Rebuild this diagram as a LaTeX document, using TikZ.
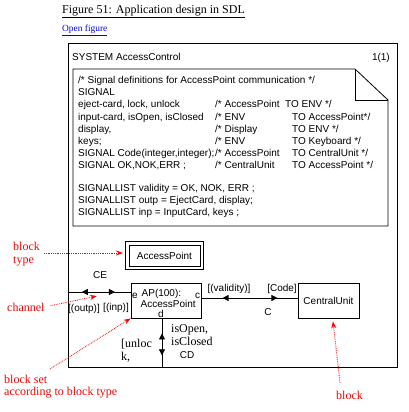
\documentclass[tikz,border=0pt]{standalone}
\usepackage{fontspec}
\setmainfont{Liberation Serif}
\setsansfont{Liberation Sans}
\usetikzlibrary{arrows.meta, decorations.markings}
\definecolor{linkblue}{RGB}{0,0,255}
\definecolor{notered}{RGB}{255,0,0}
\tikzstyle{sdlblock} = [rectangle, draw=black, line width=0.8pt, minimum height=35pt, inner sep=0pt, font=\sffamily\fontsize{10}{12}\selectfont]
\tikzstyle{blocktype} = [rectangle, draw=black, line width=0.8pt, minimum width=71pt, minimum height=21pt, inner sep=0pt, font=\sffamily\fontsize{10}{12}\selectfont]
\tikzstyle{sdltext} = [inner sep=0pt, font=\sffamily\fontsize{10}{12}\selectfont]
\tikzstyle{sdlcomment} = [inner sep=0pt, anchor=north west, font=\sffamily\fontsize{10}{12.1}\selectfont]
\tikzstyle{handtext} = [inner sep=0pt, anchor=base west, font=\fontsize{12}{14}\selectfont]
\tikzstyle{note} = [inner sep=0pt, anchor=base west, text=notered, font=\fontsize{12}{14}\selectfont]
\tikzstyle{pointer} = [notered, densely dotted, line width=0.8pt, -{Stealth[length=7pt,width=5pt]}]
\tikzstyle{channel} = [line width=0.8pt]
\tikzset{twoway/.style 2 args={postaction={decorate, decoration={markings,
  mark=at position #1 with {\arrowreversed{Triangle[length=6pt,width=6pt]}},
  mark=at position #2 with {\arrow{Triangle[length=6pt,width=6pt]}}}}}}

\begin{document}
\begin{tikzpicture}[x=1pt, y=-1pt]
\useasboundingbox (0,0) rectangle (408,412);

\node (title) [inner sep=0pt, anchor=base, font=\fontsize{12}{14}\selectfont] at (153.5,13.5) {\underline{Figure 51: Application design in SDL}};
\node (openfig) [inner sep=0pt, anchor=base west, text=linkblue, font=\fontsize{9.4}{10}\selectfont] at (62,32) {\underline{Open figure}};

\draw [line width=0.8pt] (68,43) rectangle (397,367);
\coordinate (envwest) at (68,292);
\coordinate (envsouth) at (162,367);
\node (systemname) [sdltext, anchor=base west] at (72,60.6) {SYSTEM AccessControl};
\node (pagenum) [sdltext, anchor=base east] at (390,60.6) {1(1)};

\draw [line width=0.8pt] (73,69) -- (355,69) -- (388,100) -- (388,226) -- (73,226) -- cycle;
\draw [line width=0.8pt] (355,69) -- (355,100) -- (388,100);
\node (signaldefs) [sdlcomment] at (78,75.1) {%
\begin{tabular}{@{}l@{}l@{}l@{}}
\multicolumn{3}{@{}l@{}}{/* Signal definitions for AccessPoint communication */}\\
SIGNAL & & \\
\makebox[137pt][l]{eject-card, lock, unlock} & \makebox[77pt][l]{/* AccessPoint} & \hspace{-7pt}TO ENV */\\
\makebox[137pt][l]{input-card, isOpen, isClosed} & \makebox[77pt][l]{/* ENV} & TO AccessPoint*/\\
\makebox[137pt][l]{display,} & \makebox[77pt][l]{/* Display} & TO ENV */\\
\makebox[137pt][l]{keys;} & \makebox[77pt][l]{/* ENV} & TO Keyboard */\\
\makebox[137pt][l]{SIGNAL Code(integer,integer);} & \makebox[77pt][l]{/* AccessPoint} & TO CentralUnit */\\
\makebox[137pt][l]{SIGNAL OK,NOK,ERR ;} & \makebox[77pt][l]{/* CentralUnit} & TO AccessPoint */
\end{tabular}};
\node (signallists) [sdlcomment] at (78,183.1) {%
\begin{tabular}{@{}l@{}}
SIGNALLIST validity = OK, NOK, ERR ;\\
SIGNALLIST outp = EjectCard, display;\\
SIGNALLIST inp = InputCard, keys ;
\end{tabular}};

\node (accesspointtype) [blocktype] at (164.5,255.5) {AccessPoint};
\draw [line width=0.8pt] ([shift={(-3pt,3pt)}]accesspointtype.north west) rectangle ([shift={(3pt,-3pt)}]accesspointtype.south east);
\node (accesspoint) [sdlblock, minimum width=70pt] at (166,300.5) {};
\node (centralunit) [sdlblock, minimum width=61pt] at (328.5,300.5) {CentralUnit};
\node (apname) [sdltext, anchor=base west] at (141.5,296) {AP(100):};
\node (aptype) [sdltext, anchor=base west] at (140.5,307.8) {AccessPoint};
\node (gatee) [sdltext, anchor=base] at (135,298.5) {e};
\node (gatec) [sdltext, anchor=base] at (197.5,298.5) {c};
\node (gated) [sdltext, anchor=base] at (161,317.5) {d};

\draw [channel, twoway={0.22}{0.75}] (envwest) -- (envwest -| accesspoint.west);
\draw [channel, twoway={0.22}{0.79}] ([yshift=2.5pt]accesspoint.east) -- ([yshift=2.5pt]centralunit.west);
\draw [channel, twoway={0.31}{0.76}] (envsouth |- accesspoint.south) -- (envsouth);

\node (ce) [sdltext, anchor=base] at (100,278.6) {CE};
\node (outp) [sdltext, anchor=base] at (84,311.5) {[(outp)]};
\node (inp) [sdltext, anchor=base] at (116,310.5) {[(inp)]};
\node (validity) [sdltext, anchor=base] at (229,291.5) {[(validity)]};
\node (code) [sdltext, anchor=base] at (282,291.5) {[Code]};
\node (c) [sdltext, anchor=base] at (268,315.6) {C};
\node (cd) [sdltext, anchor=base] at (187,358.5) {CD};
\node (isopen) [handtext] at (171,332) {isOpen,};
\node (isclosed) [handtext] at (171,345.5) {isClosed};
\node (unloc) [handtext] at (121,347) {[unloc};
\node (unlock) [handtext] at (121,360) {k,};

\node (blocknote) [note] at (13,250) {block};
\node (typenote) [note] at (13,263) {type};
\node (channelnote) [note] at (7,311) {channel};
\node (setnote) [note] at (4,383) {block set};
\node (accordingnote) [note] at (4,395.5) {according to block type};
\node (unitnote) [note] at (336,399) {block};
\coordinate (typefrom) at (44,253);
\coordinate (typeto) at (123,253);
\coordinate (channelto) at (97,296);
\coordinate (setfrom) at (50,369);
\coordinate (unitfrom) at (340,383);
\draw [pointer] (typefrom) -- (typeto);
\draw [pointer, shorten <=6pt] (channelnote.east) -- (channelto);
\draw [pointer] (setfrom) -- (accesspoint.south west);
\draw [pointer] (unitfrom) -- ([xshift=4.5pt,yshift=-3pt]centralunit.south);
\end{tikzpicture}
\end{document}
